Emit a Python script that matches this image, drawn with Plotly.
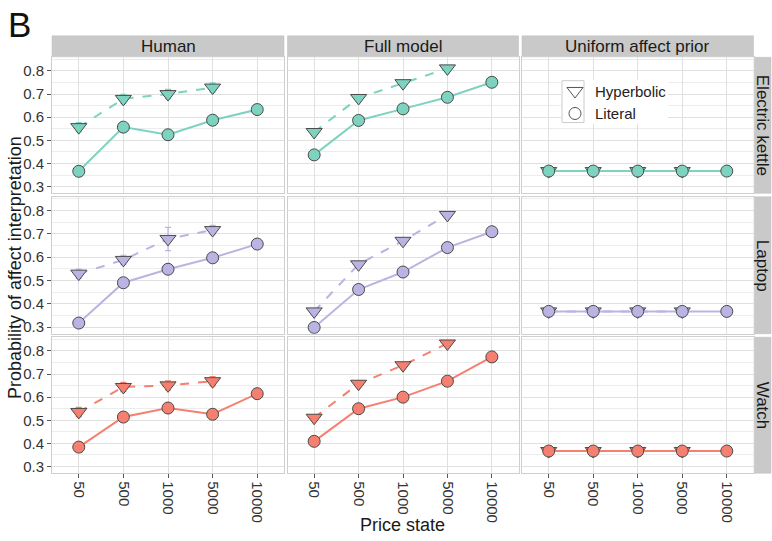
import plotly.graph_objects as go

# ---------------- data ----------------
prices = ["50", "500", "1000", "5000", "10000"]
hyper_prices = ["50", "500", "1000", "5000"]
models = ["Human", "Full model", "Uniform affect prior"]
products = ["Electric kettle", "Laptop", "Watch"]
product_colors = ["#7dd3c0", "#b9b4e2", "#f5806f"]

human_literal_kettle = [0.366, 0.557, 0.524, 0.587, 0.633]
human_hyper_kettle = [0.557, 0.679, 0.700, 0.728]
human_literal_laptop = [0.317, 0.490, 0.548, 0.597, 0.656]
human_hyper_laptop = [0.529, 0.588, 0.678, 0.716]
human_literal_watch = [0.384, 0.514, 0.553, 0.526, 0.615]
human_hyper_watch = [0.536, 0.644, 0.651, 0.669]

human_literal_err_kettle = [0.02, 0.02, 0.02, 0.02, 0.02]
human_hyper_err_kettle = [0.02, 0.02, 0.02, 0.02]
human_literal_err_laptop = [0.02, 0.02, 0.02, 0.02, 0.02]
human_hyper_err_laptop = [0.02, 0.02, 0.05, 0.02]
human_literal_err_watch = [0.02, 0.02, 0.02, 0.02, 0.02]
human_hyper_err_watch = [0.02, 0.02, 0.02, 0.02]

model_literal_kettle = [0.437, 0.586, 0.636, 0.686, 0.751]
model_hyper_kettle = [0.536, 0.683, 0.747, 0.811]
model_literal_laptop = [0.298, 0.461, 0.536, 0.641, 0.709]
model_hyper_laptop = [0.367, 0.569, 0.670, 0.781]
model_literal_watch = [0.409, 0.550, 0.600, 0.669, 0.774]
model_hyper_watch = [0.511, 0.658, 0.738, 0.832]

uniform_literal_kettle = [0.367, 0.367, 0.367, 0.367, 0.367]
uniform_hyper_kettle = [0.367, 0.367, 0.367, 0.367]
uniform_literal_laptop = [0.367, 0.367, 0.367, 0.367, 0.367]
uniform_hyper_laptop = [0.367, 0.367, 0.367, 0.367]
uniform_literal_watch = [0.367, 0.367, 0.367, 0.367, 0.367]
uniform_hyper_watch = [0.367, 0.367, 0.367, 0.367]

y_ticks = [0.3, 0.4, 0.5, 0.6, 0.7, 0.8]

# [row][col] -> (literal, hyperbolic, literal_err, hyper_err)
panels = [
    [(human_literal_kettle, human_hyper_kettle, human_literal_err_kettle, human_hyper_err_kettle),
     (model_literal_kettle, model_hyper_kettle, None, None),
     (uniform_literal_kettle, uniform_hyper_kettle, None, None)],
    [(human_literal_laptop, human_hyper_laptop, human_literal_err_laptop, human_hyper_err_laptop),
     (model_literal_laptop, model_hyper_laptop, None, None),
     (uniform_literal_laptop, uniform_hyper_laptop, None, None)],
    [(human_literal_watch, human_hyper_watch, human_literal_err_watch, human_hyper_err_watch),
     (model_literal_watch, model_hyper_watch, None, None),
     (uniform_literal_watch, uniform_hyper_watch, None, None)],
]

# ---------------- layout geometry (pixels) ----------------
W, H = 772, 541
col_px = [(52, 284), (287.5, 518.5), (522, 753.5)]
row_px = [(57.5, 194), (197.5, 335), (338.5, 475)]

def px_x(x):
    return x / W

def px_y(y):
    return 1 - y / H

fig = go.Figure()
layout = dict(
    width=W, height=H,
    margin=dict(l=0, r=0, t=0, b=0),
    paper_bgcolor="white", plot_bgcolor="white",
    font=dict(family="Liberation Sans, Arial, sans-serif", color="#222"),
    showlegend=True,
    legend=dict(x=px_x(555), y=px_y(75), xanchor="left", yanchor="top",
                bgcolor="rgba(0,0,0,0)", borderwidth=0,
                font=dict(size=15, color="#222"),
                itemwidth=30, tracegroupgap=0),
)

shapes = []
annotations = []
GRID = "#e0e0e0"
for r in range(3):
    for c in range(3):
        idx = r * 3 + c + 1
        xa = "x" if idx == 1 else f"x{idx}"
        ya = "y" if idx == 1 else f"y{idx}"
        xkey = "xaxis" if idx == 1 else f"xaxis{idx}"
        ykey = "yaxis" if idx == 1 else f"yaxis{idx}"
        x0, x1 = col_px[c]
        y0, y1 = row_px[r]
        layout[xkey] = dict(
            domain=[px_x(x0), px_x(x1)], anchor=ya,
            type="category", categoryorder="array", categoryarray=prices,
            range=[-0.6, 4.6],
            showgrid=True, gridcolor=GRID, gridwidth=1,
            showline=True, mirror=True, linecolor="#cfcfcf", linewidth=1,
            zeroline=False,
            showticklabels=(r == 2),
            ticks="outside" if r == 2 else "", ticklen=4, tickcolor="#555",
            tickangle=90, tickfont=dict(size=15, color="#333"),
        )
        layout[ykey] = dict(
            domain=[px_y(y1), px_y(y0)], anchor=xa,
            range=[0.271, 0.859],
            tickvals=y_ticks, ticktext=[f"{v:.1f}" for v in y_ticks],
            showgrid=True, gridcolor=GRID, gridwidth=1,
            minor=dict(tickvals=[0.35, 0.45, 0.55, 0.65, 0.75, 0.85],
                       showgrid=True, gridcolor="#ececec", gridwidth=0.6),
            showline=True, mirror=True, linecolor="#cfcfcf", linewidth=1,
            zeroline=False,
            showticklabels=(c == 0),
            ticks="outside" if c == 0 else "", ticklen=4, tickcolor="#555",
            tickfont=dict(size=15, color="#333"),
        )
        lit, hyp, lit_err, hyp_err = panels[r][c]
        color = product_colors[r]
        hyp_trace = dict(
            x=hyper_prices, y=hyp, xaxis=xa, yaxis=ya, mode="lines+markers",
            line=dict(color=color, width=2, dash="dash"),
            marker=dict(symbol="triangle-down", size=14, color=color,
                        line=dict(color="#4a4a4a", width=1)),
            showlegend=False, hoverinfo="x+y",
        )
        if hyp_err is not None:
            hyp_trace["error_y"] = dict(type="data", array=hyp_err, visible=True,
                                        color=color, thickness=1.2, width=3)
        fig.add_trace(go.Scatter(**hyp_trace))
        lit_trace = dict(
            x=prices, y=lit, xaxis=xa, yaxis=ya, mode="lines+markers",
            line=dict(color=color, width=2),
            marker=dict(symbol="circle", size=12, color=color,
                        line=dict(color="#4a4a4a", width=1)),
            showlegend=False, hoverinfo="x+y",
        )
        if lit_err is not None:
            lit_trace["error_y"] = dict(type="data", array=lit_err, visible=True,
                                        color=color, thickness=1.2, width=3)
        fig.add_trace(go.Scatter(**lit_trace))

# legend entries
fig.add_trace(go.Scatter(x=[None], y=[None], mode="markers", name="Hyperbolic",
                         marker=dict(symbol="triangle-down", size=14, color="white",
                                     line=dict(color="#555", width=1))))
fig.add_trace(go.Scatter(x=[None], y=[None], mode="markers", name="Literal",
                         marker=dict(symbol="circle", size=12, color="white",
                                     line=dict(color="#555", width=1))))

# legend background and key box
shapes.append(dict(type="rect", xref="paper", yref="paper",
                   x0=px_x(561), x1=px_x(668), y0=px_y(124), y1=px_y(80),
                   fillcolor="white", line=dict(width=0), layer="above"))
shapes.append(dict(type="rect", xref="paper", yref="paper",
                   x0=px_x(562), x1=px_x(584), y0=px_y(123), y1=px_y(81),
                   fillcolor="rgba(0,0,0,0)", line=dict(color="#cccccc", width=1), layer="above"))

STRIP = "#c9c9c9"
# top strips
for c, name in enumerate(models):
    x0, x1 = col_px[c]
    shapes.append(dict(type="rect", xref="paper", yref="paper",
                       x0=px_x(x0), x1=px_x(x1), y0=px_y(57), y1=px_y(36),
                       fillcolor=STRIP, line=dict(color="#bdbdbd", width=0.5), layer="below"))
    annotations.append(dict(text=name, xref="paper", yref="paper",
                            x=px_x((x0 + x1) / 2), y=px_y(46.5), showarrow=False,
                            xanchor="center", yanchor="middle",
                            font=dict(size=17, color="#1a1a1a")))
# right strips
for r, name in enumerate(products):
    y0, y1 = row_px[r]
    shapes.append(dict(type="rect", xref="paper", yref="paper",
                       x0=px_x(754), x1=px_x(771), y0=px_y(y1), y1=px_y(y0),
                       fillcolor=STRIP, line=dict(color="#bdbdbd", width=0.5), layer="below"))
    annotations.append(dict(text=name, xref="paper", yref="paper",
                            x=px_x(762.5), y=px_y((y0 + y1) / 2), showarrow=False,
                            textangle=90, xanchor="center", yanchor="middle",
                            font=dict(size=17, color="#1a1a1a")))

# axis titles and panel label
annotations.append(dict(text="Price state", xref="paper", yref="paper",
                        x=px_x(402.5), y=px_y(527), showarrow=False,
                        xanchor="center", yanchor="middle",
                        font=dict(size=18, color="#1a1a1a")))
annotations.append(dict(text="Probability of affect interpretation", xref="paper", yref="paper",
                        x=px_x(15), y=px_y(269), showarrow=False, textangle=-90,
                        xanchor="center", yanchor="middle",
                        font=dict(size=18, color="#1a1a1a")))
annotations.append(dict(text="B", xref="paper", yref="paper",
                        x=px_x(6), y=px_y(3), showarrow=False,
                        xanchor="left", yanchor="top",
                        font=dict(size=35, color="#111")))

layout["shapes"] = shapes
layout["annotations"] = annotations
fig.update_layout(**layout)
fig.write_html("out.html", config={"displayModeBar": False},
               post_script="document.body.style.margin='0';document.body.style.overflow='hidden';")
